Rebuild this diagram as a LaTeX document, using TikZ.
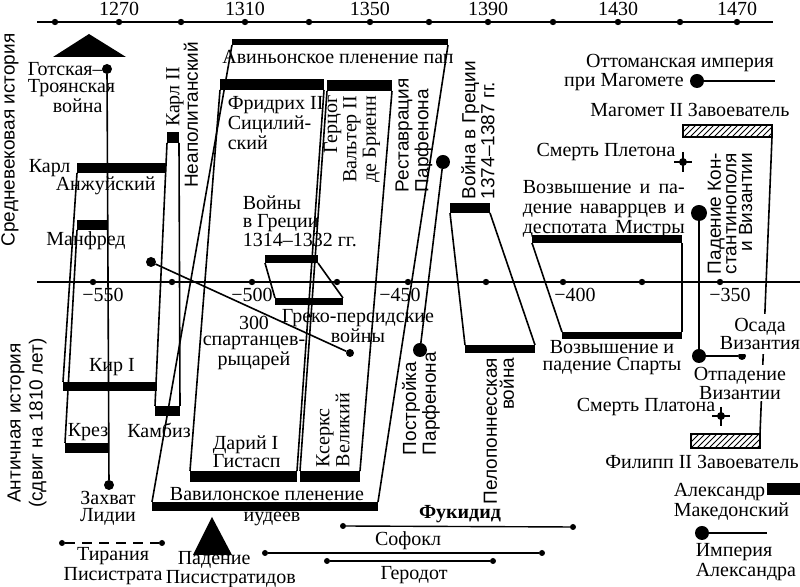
\documentclass[tikz,border=0pt]{standalone}
\usepackage{fontspec}
\setmainfont{Liberation Serif}
\setsansfont{Liberation Sans}
\usetikzlibrary{fit,patterns}

\tikzset{
	lbl/.style={font=\fontsize{10}{8.5}\selectfont,inner sep=0pt,align=center},
	lead/.style={font=\fontsize{10}{#1}\selectfont},
	vlbl/.style={font=\sffamily\fontsize{9.5}{8}\selectfont,inner sep=0pt,rotate=90},
	reign/.style={fill=black,inner sep=0pt,outer sep=0pt},
	hatchbar/.style={draw,pattern=north east lines,inner sep=0pt,outer sep=0pt},
	evdot/.style={circle,fill=black,inner sep=0pt,outer sep=0pt,minimum size=#1},
}

\begin{document}
\begin{tikzpicture}[x=0.5pt,y=-0.5pt,line width=0.8pt]
	\useasboundingbox (0,0) rectangle (800,587);
	% time axes
	\coordinate (ta) at (37,22);
	\coordinate (tb) at (773,22);
	\draw[line width=0.7pt] (ta) -- (tb);
	\foreach \x in {55,119,181,245,309,370,429,488,553,618,680,737}
		\fill (\x,22) circle (1.6pt);
	\foreach \x/\yr in {119/1270,245/1310,370/1350,488/1390,618/1430,737/1470}
		\node[lbl] (yr\yr) at (\x,9) {\yr};
	\coordinate (ma) at (37,282);
	\coordinate (mb) at (800,282);
	\draw[line width=0.7pt] (ma) -- (mb);
	\foreach \x in {93,172,252,337,408,486,563,642,720}
		\fill (\x,282) circle (1.6pt);
	\foreach \x/\yr in {103/550,252/500,400/450,575/400,730/350}
		\node[lbl] (bc\yr) at (\x,295) {−\yr};
	\node[vlbl,font=\sffamily\fontsize{9.5}{9}\selectfont] (medlbl) at (10,140) {Средневековая история};
	\node[vlbl,font=\sffamily\fontsize{9.5}{11}\selectfont,align=center] (antlbl) at (27,423) {Античная история\\(сдвиг на 1810 лет)};

	% left group
	\fill (53,57) -- (89,34) -- (126,57) -- cycle;
	\node[lbl,align=left,anchor=north west] (gotlbl) at (27,62) {Готская–\\Троянская\\\hspace*{12.5pt}война};
	\node[evdot=5pt] (gotsk) at (107,69) {};
	\node[evdot=5pt] (lidia) at (109,485) {};
	\draw (gotsk) -- (lidia);
	\node[lbl,lead=8.5] (lidlbl) at (108,508) {Захват\\Лидии};
	\node[reign,fit={(77,163) (166,173)}] (karl) {};
	\node[lbl,lead=9,align=left,anchor=north west] (karllbl) at (28,159) {Карл\\\hspace*{13.5pt}Анжуйский};
	\node[reign,fit={(77,220) (107,230)}] (manfred) {};
	\node[lbl] (manlbl) at (86,241) {Манфред};
	\node[reign,fit={(167,132) (179,143)}] (karlii) {};
	\node[lbl,rotate=90] (karliilbl) at (175,97) {Карл II};
	\node[vlbl] (neaplbl) at (191,115) {Неаполитанский};
	\node[reign,fit={(63,382) (157,391)}] (kir) {};
	\node[lbl] (kirlbl) at (112,367) {Кир I};
	\node[reign,fit={(65,443) (108,453)}] (krez) {};
	\node[lbl] (krezlbl) at (88,432) {Крез};
	\node[reign,fit={(155,406) (180,416)}] (kambiz) {};
	\node[lbl] (kamblbl) at (159,430) {Камбиз};
	\draw (karl.south west) -- (kir.north west);
	\draw (manfred.south west) -- (krez.north west);
	\draw (karlii.south west) -- (kambiz.north west);
	\draw (karlii.south east) -- (kambiz.north east);

	% captivities
	\node[reign,fit={(232,39) (448,45)}] (avignon) {};
	\node[lbl] (avlbl) at (338,57) {Авиньонское пленение пап};
	\node[reign,fit={(152,502) (378,511)}] (babylon) {};
	\node[lbl] (bablbl) at (267,494) {Вавилонское пленение};
	\node[lbl] (judlbl) at (272,519) {иудеев};
	\draw (avignon.south west) -- (babylon.north west);
	\draw (avignon.south east) -- (babylon.north east);

	% Frederick / Darius, Walter / Xerxes
	\node[reign,fit={(220,79) (324,90)}] (fridrich) {};
	\node[lbl,lead=8.3,align=left,anchor=north west] (fridlbl) at (227,96) {Фридрих II\\Сицилий-\\ский};
	\node[reign,fit={(190,471) (297,482)}] (darius) {};
	\node[lbl,lead=9,align=left,anchor=north west] (darlbl) at (212,435) {Дарий I\\Гистасп};
	\draw (fridrich.south west) -- (darius.north west);
	\draw (fridrich.south east) -- (darius.north east);
	\node[reign,fit={(327,80) (392,91)}] (walter) {};
	\node[lbl,lead=8,rotate=90,align=right,anchor=east] (walterlbl) at (352,95) {Герцог\\Вальтер II\\де Бриенн};
	\node[reign,fit={(300,471) (360,482)}] (xerxes) {};
	\node[lbl,lead=7.5,rotate=90,align=left,anchor=west] (xerxlbl) at (333,468) {Ксеркс\\Великий};
	\draw (walter.south west) -- (xerxes.north west);
	\draw (walter.south east) -- (xerxes.north east);

	% wars in Greece
	\node[reign,fit={(265,255) (318,263)}] (wargr) {};
	\node[lbl,lead=9.2,align=left,anchor=north west] (wargrlbl) at (242,195) {Войны\\в Греции\\1314–1332 гг.};
	\node[reign,fit={(275,298) (343,305)}] (grpers) {};
	\node[lbl,lead=8,anchor=north] (grperslbl) at (358,309) {Греко-персидские\\войны};
	\draw (wargr.south west) -- (grpers.north west);
	\draw (wargr.south east) -- (grpers.north east);
	\node[evdot=5pt] (sp1) at (151,262) {};
	\node[evdot=4pt] (sp2) at (350,353) {};
	\draw (sp1) -- (sp2);
	\node[lbl,lead=8,anchor=north] (sparlbl) at (254,315) {300\\спартанцев-\\рыцарей};

	% Parthenon
	\node[evdot=7pt] (restor) at (443,162) {};
	\node[evdot=7pt] (postr) at (420,350) {};
	\draw (restor) -- (postr);
	\node[vlbl,font=\sffamily\fontsize{9.5}{8.5}\selectfont,align=left,anchor=west] (restlbl) at (414,193) {Реставрация\\Парфенона};
	\node[vlbl,align=left,anchor=west] (postlbl) at (421,456) {Постройка\\Парфенона};

	% war 1374-1387 / Peloponnesian war
	\node[reign,fit={(450,203) (490,213)}] (wargr2) {};
	\node[vlbl,font=\sffamily\fontsize{9.5}{9.5}\selectfont,align=left,anchor=west] (wargr2lbl) at (478,200) {Война в Греции\\1374–1387 гг.};
	\node[reign,fit={(465,345) (535,353)}] (pelop) {};
	\node[vlbl,font=\sffamily\fontsize{9.5}{8.5}\selectfont,align=right,anchor=east] (peloplbl) at (499,357) {Пелопоннесская\\война};
	\draw (wargr2.south west) -- (pelop.north west);
	\draw (wargr2.south east) -- (pelop.north east);

	% Navarre / Sparta
	\node[reign,fit={(532,235) (682,243)}] (navarr) {};
	\node[lbl,lead=10,align=left,anchor=north west] (navlbl) at (522,180) {\makebox[81pt][s]{Возвышение и па-}\\\makebox[81pt][s]{дение наваррцев и}\\\makebox[81pt][s]{деспотата Мистры}};
	\node[reign,fit={(562,332) (682,339)}] (sparta) {};
	\node[lbl] (spartlbl) at (612,358) {Возвышение и\\падение Спарты};
	\draw (navarr.south west) -- (sparta.north west);
	\draw (navarr.south east) -- (sparta.north east);

	% Ottomans / Macedonians
	\node[lbl] (ottlbl) at (680,63) {Оттоманская империя};
	\node[lbl] (primaglbl) at (624,82) {при Магомете};
	\node[evdot=7pt] (ott) at (697,81) {};
	\coordinate (ottend) at (775,81);
	\draw (ott) -- (ottend);
	\node[lbl] (mehlbl) at (690,110) {Магомет II Завоеватель};
	\node[hatchbar,fit={(683,125) (772,137)}] (mehmed) {};
	\node[hatchbar,fit={(691,434) (760,448)}] (philip) {};
	\draw (mehmed.south east) -- (philip.north east);
	\node[lbl] (philbl) at (702,462) {Филипп II Завоеватель};
	\node[lbl] (plethlbl) at (606,152) {Смерть Плетона};
	\coordinate (pleth) at (683,162);
	\fill (pleth) circle (2pt);
	\draw (pleth) +(-9,0) -- +(9,0) (pleth) +(0,-10) -- +(0,10);
	\node[lbl] (platlbl) at (646,407) {Смерть Платона};
	\coordinate (plat) at (721,416);
	\fill (plat) circle (2pt);
	\draw (plat) +(-9,0) -- +(9,0) (plat) +(0,-9) -- +(0,10);
	\node[vlbl,font=\sffamily\fontsize{9.5}{7.8}\selectfont,align=right,anchor=east] (constlbl) at (730,152) {Падение Кон-\\стантинополя\\и Византии};
	\node[evdot=8pt] (fallc) at (699,213) {};
	\node[evdot=7pt] (otpad) at (699,356) {};
	\node[evdot=4pt] (osada) at (742,356) {};
	\draw (fallc) -- (otpad) -- (osada);
	\node[lbl,lead=7.2,fill=white,inner sep=2pt] (osadlbl) at (760,334) {Осада\\Византия};
	\node[lbl,lead=7.8,fill=white,inner xsep=2pt,inner ysep=1pt] (otpadlbl) at (740,383) {Отпадение\\Византии};
	\node[lbl,lead=8.5,align=left,anchor=north west] (alexlbl) at (673,483) {Александр\\Македонский};
	\node[reign,fit={(767,483) (800,495)}] (alex) {};
	\node[evdot=7pt] (emp) at (702,533) {};
	\coordinate (empend) at (767,533);
	\draw (emp) -- (empend);
	\node[lbl,lead=7.8,align=left,anchor=north west] (emplbl) at (695,543) {Империя\\Александра};

	% bottom row
	\node[evdot=3pt] (tyr1) at (62,543) {};
	\node[evdot=3pt] (tyr2) at (162,543) {};
	\draw[dash pattern=on 5pt off 3.5pt] (tyr1) -- (tyr2);
	\node[lbl,lead=7.8] (tyrlbl) at (113,566) {Тирания\\Писистрата};
	\fill (193,555) -- (212,517) -- (232,555) -- cycle;
	\node[lbl,lead=7.5,align=left,anchor=north west] (padlbl) at (165,551) {\hspace*{6pt}Падение\\Писистратидов};
	\node[evdot=3pt] (fuk1) at (343,526) {};
	\node[evdot=3pt] (fuk2) at (573,527) {};
	\draw[line width=0.7pt] (fuk1) -- (fuk2);
	\node[lbl,font=\bfseries\fontsize{10}{8.5}\selectfont] (fuklbl) at (460,514) {Фукидид};
	\node[evdot=3pt] (sof1) at (265,553) {};
	\node[evdot=3pt] (sof2) at (542,553) {};
	\draw[line width=0.7pt] (sof1) -- (sof2);
	\node[lbl] (soflbl) at (408,541) {Софокл};
	\node[evdot=3pt] (her1) at (327,561) {};
	\node[evdot=3pt] (her2) at (493,561) {};
	\draw[line width=0.7pt] (her1) -- (her2);
	\node[lbl] (herlbl) at (414,575) {Геродот};
\end{tikzpicture}
\end{document}
